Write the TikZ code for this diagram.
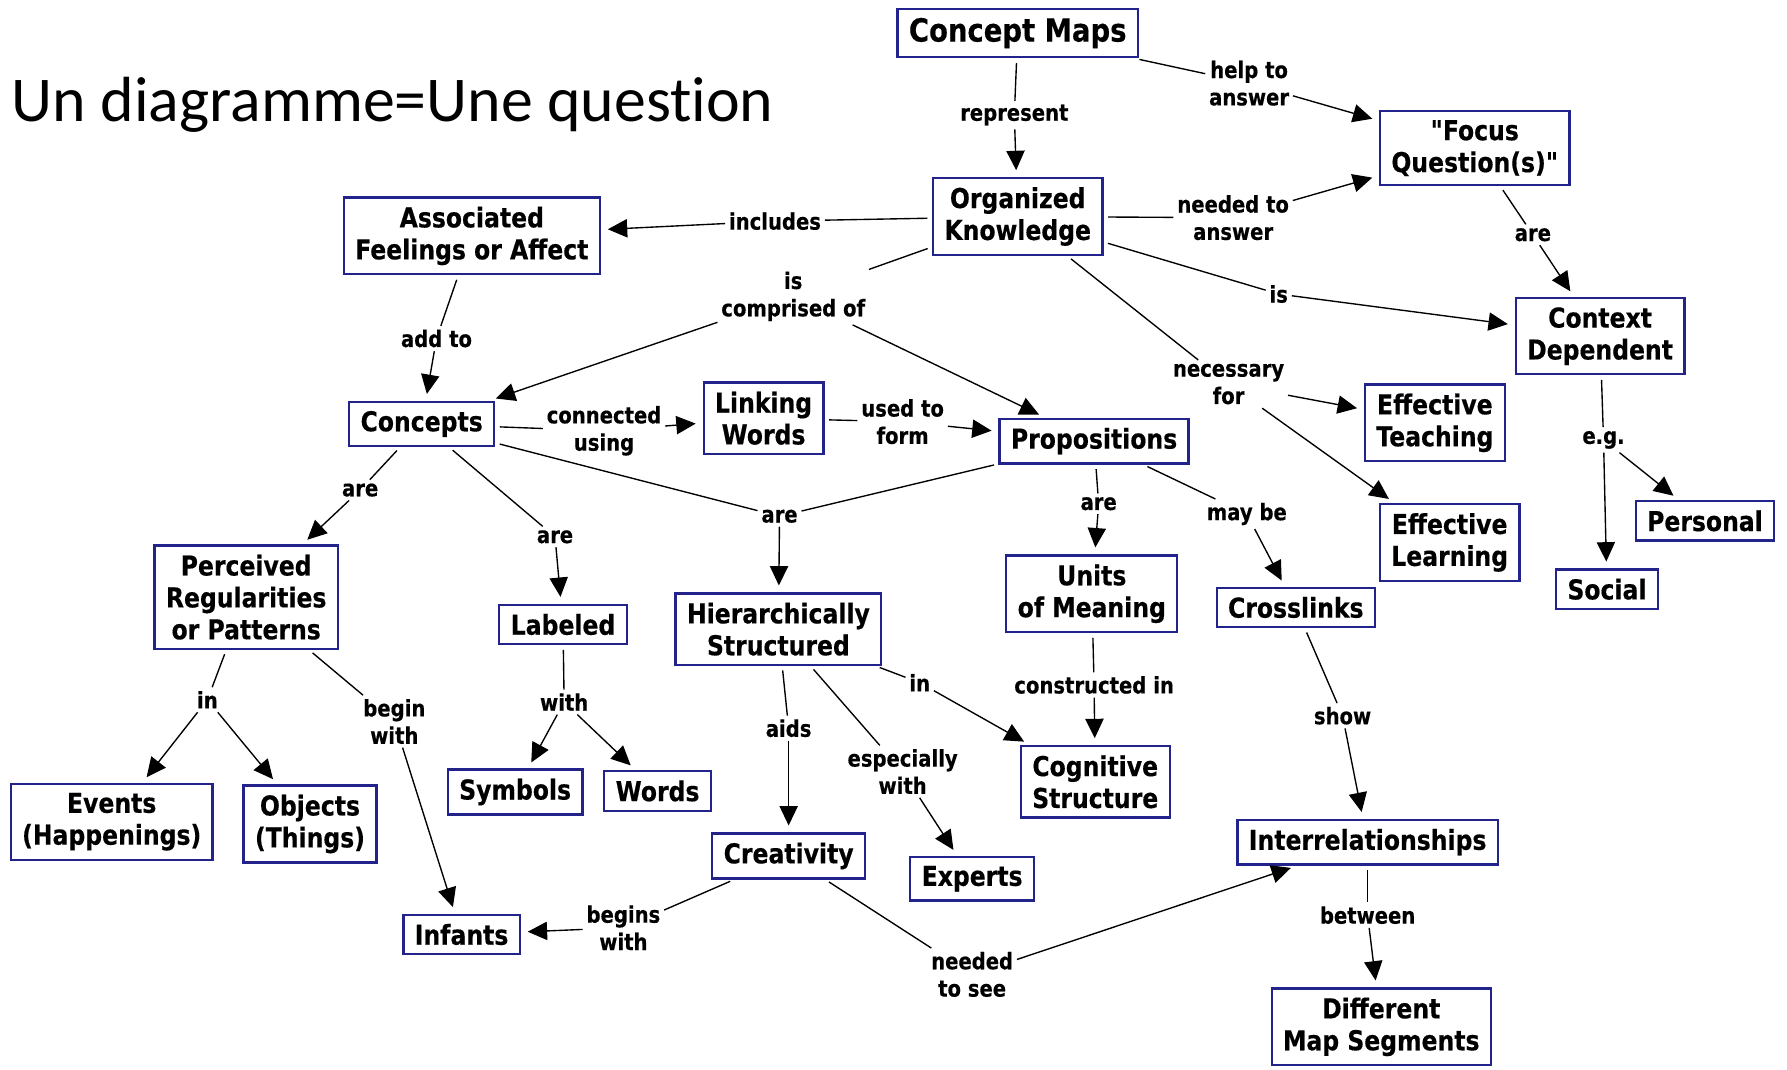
\documentclass[tikz,border=0pt]{standalone}
\usepackage{fontspec}
\newfontfamily\mapfont{DejaVu Sans}[FakeStretch=0.86, BoldFeatures={FakeBold=0.4}]
\newfontfamily\titlefont{Carlito}[Ligatures=NoCommon]
\usetikzlibrary{arrows.meta}
\definecolor{boxblue}{RGB}{35,35,140}
\tikzset{
  concept/.style={draw=boxblue, line width=1pt, fill=white, align=center,
    inner xsep=5pt, inner ysep=4pt, font=\mapfont\bfseries\fontsize{12}{14}\selectfont},
  rootconcept/.style={concept, font=\mapfont\bfseries\fontsize{14}{16}\selectfont},
  linklabel/.style={align=center, inner sep=1.5pt,
    font=\mapfont\bfseries\fontsize{10}{12}\selectfont},
  link/.style={line width=0.6pt, shorten <=2pt},
  linkarrow/.style={line width=0.6pt, shorten >=3pt,
    -{Triangle[length=8.5pt,width=8pt]}}
}
\begin{document}
\begin{tikzpicture}[x=0.5pt, y=-0.5pt]
\useasboundingbox (0,0) rectangle (1568,938);
\fill[white] (0,0) rectangle (1568,938);

\node[anchor=base west, inner sep=0pt, font=\titlefont\fontsize{28}{32}\selectfont] (title) at (10,107) {Un diagramme=Une question};

% concepts
\node[rootconcept] (cmaps) at (893,29) {Concept Maps};
\node[concept] (focus) at (1294,130) {"Focus\\Question(s)"};
\node[concept] (orgk) at (893,190) {Organized\\Knowledge};
\node[concept] (assoc) at (414,207) {Associated\\Feelings or Affect};
\node[concept] (context) at (1404,295) {Context\\Dependent};
\node[concept] (concepts) at (370,372) {Concepts};
\node[concept] (linking) at (670,367) {Linking\\Words};
\node[concept] (props) at (960,387) {Propositions};
\node[concept] (teach) at (1259,371) {Effective\\Teaching};
\node[concept] (learn) at (1272,476) {Effective\\Learning};
\node[concept] (personal) at (1496,457) {Personal};
\node[concept] (social) at (1410,517) {Social};
\node[concept] (perceived) at (216,524) {Perceived\\Regularities\\or Patterns};
\node[concept] (labeled) at (494,548) {Labeled};
\node[concept] (hier) at (683,552) {Hierarchically\\Structured};
\node[concept] (units) at (958,521) {Units\\of Meaning};
\node[concept] (cross) at (1137,533) {Crosslinks};
\node[concept] (events) at (98,721) {Events\\(Happenings)};
\node[concept] (objects) at (272,723) {Objects\\(Things)};
\node[concept] (symbols) at (452,695) {Symbols};
\node[concept] (words) at (577,694) {Words};
\node[concept] (cogn) at (961,686) {Cognitive\\Structure};
\node[concept] (creat) at (692,751) {Creativity};
\node[concept] (experts) at (853,771) {Experts};
\node[concept] (inter) at (1200,739) {Interrelationships};
\node[concept] (infants) at (405,820) {Infants};
\node[concept] (diff) at (1212,901) {Different\\Map Segments};

% linking phrases
\node[linklabel] (lrep) at (890,101) {represent};
\node[linklabel] (lhelp) at (1096,73) {help to\\answer};
\node[linklabel] (lneed) at (1082,191) {needed to\\answer};
\node[linklabel] (lincl) at (680,194) {includes};
\node[linklabel] (lcomp) at (696,260) {is\\comprised of};
\node[linklabel] (lis) at (1122,258) {is};
\node[linklabel] (lnec) at (1078,337) {necessary\\for};
\node[linklabel] (lare1) at (1345,206) {are};
\node[linklabel] (leg) at (1407,386) {e.g.};
\node[linklabel] (ladd) at (383,297) {add to};
\node[linklabel] (lconn) at (530,378) {connected\\using};
\node[linklabel] (lused) at (792,370) {used to\\form};
\node[linklabel] (lare2) at (684,453) {are};
\node[linklabel] (lare3) at (316,430) {are};
\node[linklabel] (lare4) at (487,471) {are};
\node[linklabel] (lin1) at (182,614) {in};
\node[linklabel] (lbegin) at (346,633) {begin\\with};
\node[linklabel] (lwith) at (495,616) {with};
\node[linklabel] (lin2) at (807,599) {in};
\node[linklabel] (laids) at (692,639) {aids};
\node[linklabel] (lesp) at (792,677) {especially\\with};
\node[linklabel] (lare5) at (964,442) {are};
\node[linklabel] (lmay) at (1094,451) {may be};
\node[linklabel] (lcons) at (960,601) {constructed in};
\node[linklabel] (lshow) at (1178,628) {show};
\node[linklabel] (lbetw) at (1200,803) {between};
\node[linklabel] (lbegins) at (547,814) {begins\\with};
\node[linklabel] (lsee) at (853,855) {needed\\to see};

% connectors
\draw[link] (cmaps) -- (lrep);   \draw[linkarrow] (lrep) -- (orgk);
\draw[link] (cmaps) -- (lhelp);  \draw[linkarrow] (lhelp) -- (focus);
\draw[link] (orgk) -- (lneed);   \draw[linkarrow] (lneed) -- (focus);
\draw[link] (orgk) -- (lincl);   \draw[linkarrow] (lincl) -- (assoc);
\draw[link] (orgk) -- (lcomp);
\draw[linkarrow] (lcomp) -- (concepts);
\draw[linkarrow] (lcomp) -- (props);
\draw[link] (orgk) -- (lis);     \draw[linkarrow] (lis) -- (context);
\draw[link] (orgk) -- (lnec);
\draw[linkarrow] (lnec) -- (teach);
\draw[linkarrow] (lnec) -- (learn);
\draw[link] (focus) -- (lare1);  \draw[linkarrow] (lare1) -- (context);
\draw[link] (context) -- (leg);
\draw[linkarrow] (leg) -- (personal);
\draw[linkarrow] (leg) -- (social);
\draw[link] (assoc) -- (ladd);   \draw[linkarrow] (ladd) -- (concepts);
\draw[link] (concepts) -- (lconn); \draw[linkarrow] (lconn) -- (linking);
\draw[link] (linking) -- (lused); \draw[linkarrow] (lused) -- (props);
\draw[link] (concepts) -- (lare2);
\draw[link] (props) -- (lare2);
\draw[linkarrow] (lare2) -- (hier);
\draw[link] (concepts) -- (lare3); \draw[linkarrow] (lare3) -- (perceived);
\draw[link] (concepts) -- (lare4); \draw[linkarrow] (lare4) -- (labeled);
\draw[link] (perceived) -- (lin1);
\draw[linkarrow] (lin1) -- (events);
\draw[linkarrow] (lin1) -- (objects);
\draw[link] (perceived) -- (lbegin); \draw[linkarrow] (lbegin) -- (infants);
\draw[link] (labeled) -- (lwith);
\draw[linkarrow] (lwith) -- (symbols);
\draw[linkarrow] (lwith) -- (words);
\draw[link] (hier) -- (lin2);    \draw[linkarrow] (lin2) -- (cogn);
\draw[link] (hier) -- (laids);   \draw[linkarrow] (laids) -- (creat);
\draw[link] (hier) -- (lesp);    \draw[linkarrow] (lesp) -- (experts);
\draw[link] (props) -- (lare5);  \draw[linkarrow] (lare5) -- (units);
\draw[link] (props) -- (lmay);   \draw[linkarrow] (lmay) -- (cross);
\draw[link] (units) -- (lcons);  \draw[linkarrow] (lcons) -- (cogn);
\draw[link] (cross) -- (lshow);  \draw[linkarrow] (lshow) -- (inter);
\draw[link] (inter) -- (lbetw);  \draw[linkarrow] (lbetw) -- (diff);
\draw[link] (creat) -- (lbegins); \draw[linkarrow] (lbegins) -- (infants);
\draw[link] (creat) -- (lsee);   \draw[linkarrow] (lsee) -- (inter);
\end{tikzpicture}
\end{document}
